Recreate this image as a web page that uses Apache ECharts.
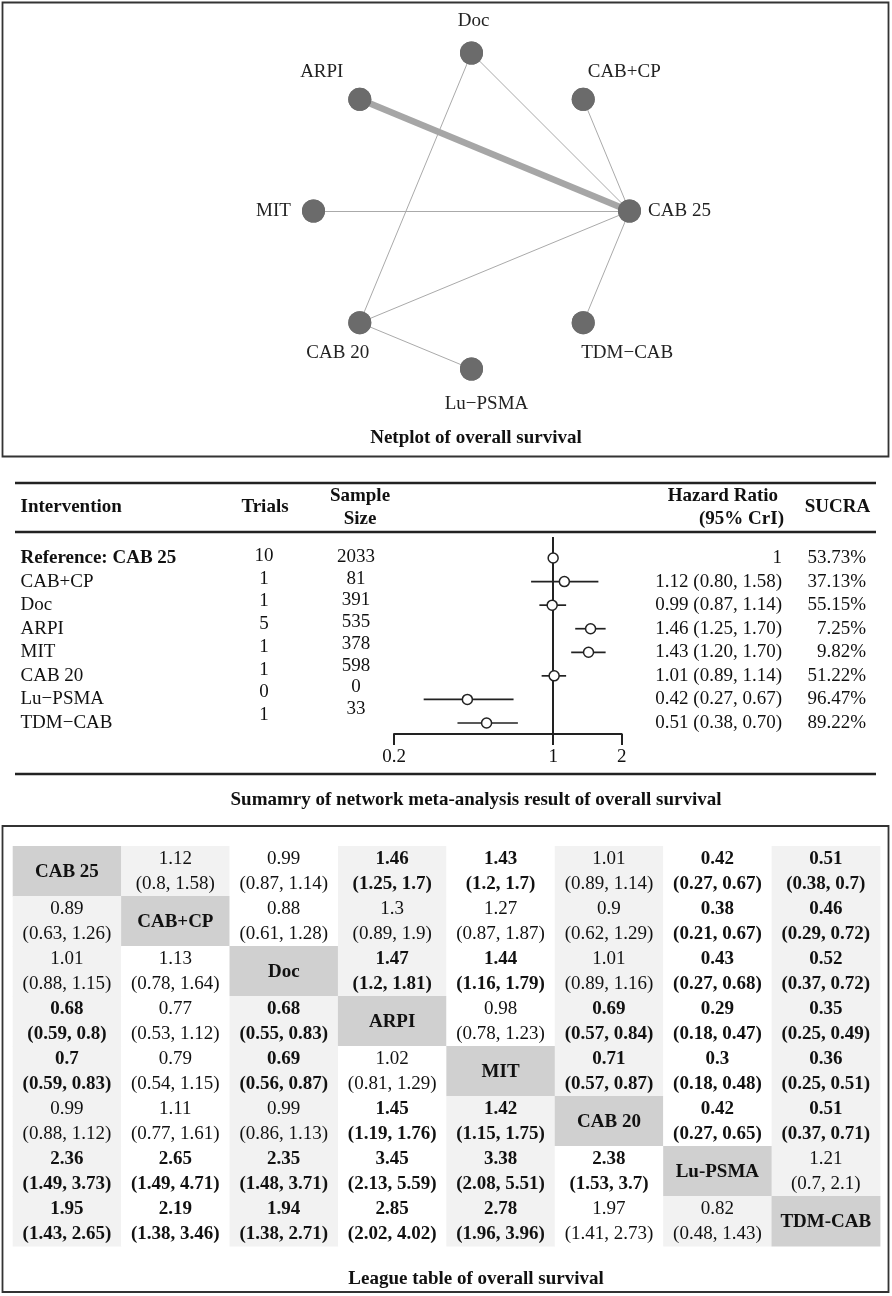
<!DOCTYPE html>
<html><head><meta charset="utf-8">
<script src="https://cdn.jsdelivr.net/npm/echarts@6/dist/echarts.min.js"></script>
<style>html,body{margin:0;padding:0;background:#fff}#c{width:892px;height:1296px}</style>
</head><body><div id="c"></div>
<script>
// ---------- Network plot data ----------
const netNodes = ['Doc', 'CAB+CP', 'CAB 25', 'TDM\u2212CAB', 'Lu\u2212PSMA', 'CAB 20', 'MIT', 'ARPI']; // clockwise from top
const netEdgeFrom = ['Doc', 'Doc', 'CAB+CP', 'ARPI', 'MIT', 'CAB 20', 'TDM\u2212CAB', 'CAB 20'];
const netEdgeTo = ['CAB 25', 'CAB 20', 'CAB 25', 'CAB 25', 'CAB 25', 'CAB 25', 'CAB 25', 'Lu\u2212PSMA'];
const netEdgeTrials = [1, 1, 1, 5, 1, 1, 1, 1];

// ---------- Summary table data ----------
const interventions = ['Reference: CAB 25', 'CAB+CP', 'Doc', 'ARPI', 'MIT', 'CAB 20', 'Lu\u2212PSMA', 'TDM\u2212CAB'];
const trials = [10, 1, 1, 5, 1, 1, 0, 1];
const sampleSize = [2033, 81, 391, 535, 378, 598, 0, 33];
const hr = [1, 1.12, 0.99, 1.46, 1.43, 1.01, 0.42, 0.51];
const hrLow = [null, 0.80, 0.87, 1.25, 1.20, 0.89, 0.27, 0.38];
const hrHigh = [null, 1.58, 1.14, 1.70, 1.70, 1.14, 0.67, 0.70];
const sucra = [53.73, 37.13, 55.15, 7.25, 9.82, 51.22, 96.47, 89.22];

// ---------- League table data ----------
const leagueNames = ['CAB 25', 'CAB+CP', 'Doc', 'ARPI', 'MIT', 'CAB 20', 'Lu-PSMA', 'TDM-CAB'];
const leagueHR = [
  [null, 1.12, 0.99, 1.46, 1.43, 1.01, 0.42, 0.51],
  [0.89, null, 0.88, 1.3, 1.27, 0.9, 0.38, 0.46],
  [1.01, 1.13, null, 1.47, 1.44, 1.01, 0.43, 0.52],
  [0.68, 0.77, 0.68, null, 0.98, 0.69, 0.29, 0.35],
  [0.7, 0.79, 0.69, 1.02, null, 0.71, 0.3, 0.36],
  [0.99, 1.11, 0.99, 1.45, 1.42, null, 0.42, 0.51],
  [2.36, 2.65, 2.35, 3.45, 3.38, 2.38, null, 1.21],
  [1.95, 2.19, 1.94, 2.85, 2.78, 1.97, 0.82, null]];
const leagueLow = [
  [null, 0.8, 0.87, 1.25, 1.2, 0.89, 0.27, 0.38],
  [0.63, null, 0.61, 0.89, 0.87, 0.62, 0.21, 0.29],
  [0.88, 0.78, null, 1.2, 1.16, 0.89, 0.27, 0.37],
  [0.59, 0.53, 0.55, null, 0.78, 0.57, 0.18, 0.25],
  [0.59, 0.54, 0.56, 0.81, null, 0.57, 0.18, 0.25],
  [0.88, 0.77, 0.86, 1.19, 1.15, null, 0.27, 0.37],
  [1.49, 1.49, 1.48, 2.13, 2.08, 1.53, null, 0.7],
  [1.43, 1.38, 1.38, 2.02, 1.96, 1.41, 0.48, null]];
const leagueHigh = [
  [null, 1.58, 1.14, 1.7, 1.7, 1.14, 0.67, 0.7],
  [1.26, null, 1.28, 1.9, 1.87, 1.29, 0.67, 0.72],
  [1.15, 1.64, null, 1.81, 1.79, 1.16, 0.68, 0.72],
  [0.8, 1.12, 0.83, null, 1.23, 0.84, 0.47, 0.49],
  [0.83, 1.15, 0.87, 1.29, null, 0.87, 0.48, 0.51],
  [1.12, 1.61, 1.13, 1.76, 1.75, null, 0.65, 0.71],
  [3.73, 4.71, 3.71, 5.59, 5.51, 3.7, null, 2.1],
  [2.65, 3.46, 2.71, 4.02, 3.96, 2.73, 1.43, null]];
const leagueBold = [
  [0, 0, 0, 1, 1, 0, 1, 1],
  [0, 0, 0, 0, 0, 0, 1, 1],
  [0, 0, 0, 1, 1, 0, 1, 1],
  [1, 0, 1, 0, 0, 1, 1, 1],
  [1, 0, 1, 0, 0, 1, 1, 1],
  [0, 0, 0, 1, 1, 0, 1, 1],
  [1, 1, 1, 1, 1, 1, 0, 0],
  [1, 1, 1, 1, 1, 0, 0, 0]];

// ---------- styles ----------
const FONT = '"Liberation Serif", "Times New Roman", serif';
const FS = 19;
const INK = '#111';
const NODE_COLOR = '#6b6b6b';
const netLabelOffset = {
  'Doc': [2, -32], 'CAB+CP': [41, -27], 'CAB 25': [50, 0], 'TDM\u2212CAB': [44, 30],
  'Lu\u2212PSMA': [15, 35], 'CAB 20': [-22, 30], 'MIT': [-40, 0], 'ARPI': [-38, -27]
};

const chart = echarts.init(document.getElementById('c'), null, {renderer: 'canvas', width: 892, height: 1296});

// text-column grids: [left, top, height]
const textGrids = {
  interv: [20.5, 558, 165],
  trials: [264, 556, 159],
  sample: [356, 557, 152],
  hrText: [782, 558, 165],
  sucra: [866, 558, 165]
};
const gridList = [
  {left: 394, width: 227.7, top: 537, height: 197, outerBoundsMode: 'none'} // forest
];
const colKeys = Object.keys(textGrids);
colKeys.forEach(k => {
  const g = textGrids[k];
  gridList.push({left: g[0], width: 1, top: g[1], height: g[2], outerBoundsMode: 'none'});
});
gridList.push({left: 12.7, width: 867.3, top: 846, height: 400, outerBoundsMode: 'none'}); // league
const LEAGUE_GRID = gridList.length - 1;

const xAxes = [{
  type: 'log', gridIndex: 0, min: 0.2, max: 2, logBase: 10,
  axisLine: {show: true, onZero: false, lineStyle: {color: '#222', width: 2}},
  axisTick: {show: true, length: 11, lineStyle: {color: '#222', width: 2}},
  axisLabel: {fontFamily: FONT, fontSize: FS, color: INK, margin: 14, showMinLabel: true, showMaxLabel: true},
  splitLine: {show: false}, minorTick: {show: false}
}];
const yAxes = [{
  type: 'value', gridIndex: 0, inverse: true, min: -0.891, max: 7.467, show: false
}];
colKeys.forEach((k, idx) => {
  xAxes.push({type: 'value', gridIndex: idx + 1, min: 0, max: 1, show: false});
  yAxes.push({type: 'category', gridIndex: idx + 1, data: interventions, inverse: true, boundaryGap: false, show: false});
});
xAxes.push({type: 'category', gridIndex: LEAGUE_GRID, data: leagueNames, show: false});
yAxes.push({type: 'category', gridIndex: LEAGUE_GRID, data: leagueNames, inverse: true, show: false});

function textColumn(gi, labels, align, boldRows) {
  return {
    type: 'custom', xAxisIndex: gi, yAxisIndex: gi, silent: true,
    data: labels.map((t, i) => [0, i]),
    renderItem: function (params, api) {
      const p = api.coord([0, api.value(1)]);
      const i = params.dataIndex;
      return {
        type: 'text', x: p[0], y: p[1],
        style: {
          text: labels[i], fontFamily: FONT, fontSize: FS,
          fontWeight: boldRows && boldRows.indexOf(i) >= 0 ? 'bold' : 'normal',
          fill: INK, align: align, verticalAlign: 'middle'
        }
      };
    }
  };
}

const hrLabels = hr.map((v, i) => hrLow[i] == null ? String(v) :
  v.toFixed(2) + ' (' + hrLow[i].toFixed(2) + ', ' + hrHigh[i].toFixed(2) + ')');
const sucraLabels = sucra.map(v => v.toFixed(2) + '%');

const leagueCells = [];
for (let i = 0; i < leagueNames.length; i++) for (let j = 0; j < leagueNames.length; j++) leagueCells.push([j, i]);

const series = [
  {
    // edges (and node labels) of the network
    type: 'graph', coordinateSystem: 'polar', polarIndex: 0, roam: false, silent: true,
    symbol: 'circle', symbolSize: 23,
    itemStyle: {color: NODE_COLOR},
    label: {show: true, position: 'inside', fontFamily: FONT, fontSize: FS, color: '#222'},
    lineStyle: {color: '#aaaaaa', opacity: 1, curveness: 0},
    data: netNodes.map((n, i) => ({name: n, value: [1, i], label: {offset: netLabelOffset[n]}})),
    links: netEdgeFrom.map((s, k) => ({
      source: s, target: netEdgeTo[k],
      lineStyle: {width: 1 + (netEdgeTrials[k] - 1) * 1.4, color: netEdgeTrials[k] > 1 ? '#a6a6a6' : '#aaaaaa'}
    })),
    z: 2
  },
  {
    // node discs drawn above the edges
    type: 'scatter', coordinateSystem: 'polar', polarIndex: 0, silent: true,
    symbol: 'circle', symbolSize: 23,
    itemStyle: {color: NODE_COLOR, opacity: 1},
    data: netNodes.map((n, i) => [1, i]),
    z: 4
  },
  {
    type: 'custom', xAxisIndex: 0, yAxisIndex: 0, silent: true,
    data: hr.map((v, i) => [hrLow[i], hrHigh[i], i]).filter(d => d[0] != null),
    encode: {x: [0, 1], y: 2},
    renderItem: function (params, api) {
      const a = api.coord([api.value(0), api.value(2)]);
      const b = api.coord([api.value(1), api.value(2)]);
      return {type: 'line', shape: {x1: a[0], y1: a[1], x2: b[0], y2: a[1]}, style: {stroke: '#222', lineWidth: 1.7}};
    },
    markLine: {
      silent: true, symbol: 'none', label: {show: false},
      lineStyle: {color: '#222', width: 2, type: 'solid'},
      data: [{xAxis: 1}]
    },
    z: 2
  },
  {
    type: 'scatter', xAxisIndex: 0, yAxisIndex: 0, silent: true,
    data: hr.map((v, i) => [v, i]),
    symbol: 'circle', symbolSize: 10,
    itemStyle: {color: '#fff', borderColor: '#222', borderWidth: 1.5, opacity: 1},
    z: 5
  },
  textColumn(1, interventions, 'left', [0]),
  textColumn(2, trials.map(String), 'center'),
  textColumn(3, sampleSize.map(String), 'center'),
  textColumn(4, hrLabels, 'right'),
  textColumn(5, sucraLabels, 'right'),
  {
    type: 'custom', xAxisIndex: LEAGUE_GRID, yAxisIndex: LEAGUE_GRID, silent: true,
    data: leagueCells,
    renderItem: function (params, api) {
      const j = api.value(0), i = api.value(1);
      const c = api.coord([j, i]);
      const s = api.size([1, 1]);
      let fill, text, bold;
      if (i === j) {
        fill = '#d0d0d0'; text = leagueNames[i]; bold = true;
      } else {
        const light = j > i ? (j % 2 === 1) : (j % 2 === 0);
        fill = light ? '#f2f2f2' : '#ffffff';
        text = leagueHR[i][j] + '\n(' + leagueLow[i][j] + ', ' + leagueHigh[i][j] + ')';
        bold = leagueBold[i][j] === 1;
      }
      return {
        type: 'group', children: [
          {type: 'rect', shape: {x: c[0] - s[0] / 2, y: c[1] - s[1] / 2, width: s[0] + 0.4, height: s[1] + 0.4}, style: {fill: fill}},
          {type: 'text', x: c[0], y: c[1] + 1, style: {
            text: text, fontFamily: FONT, fontSize: FS, fontWeight: bold ? 'bold' : 'normal',
            lineHeight: 25, fill: INK, align: 'center', verticalAlign: 'middle'}}
        ]
      };
    }
  }
];

function gText(x, y, text, align, bold) {
  return {type: 'text', x: x, y: y, silent: true, z: 10,
    style: {text: text, fontFamily: FONT, fontSize: FS, fontWeight: bold ? 'bold' : 'normal',
      fill: INK, align: align, verticalAlign: 'middle'}};
}
function gLine(x1, y1, x2, y2, w) {
  return {type: 'line', silent: true, z: 10, shape: {x1: x1, y1: y1, x2: x2, y2: y2}, style: {stroke: '#222', lineWidth: w}};
}

const graphic = [
  {type: 'rect', silent: true, z: 10, shape: {x: 2.5, y: 2.5, width: 886, height: 454}, style: {fill: null, stroke: '#333', lineWidth: 1.8}},
  {type: 'rect', silent: true, z: 10, shape: {x: 2.5, y: 826, width: 886, height: 466}, style: {fill: null, stroke: '#333', lineWidth: 1.8}},
  gText(476, 438, 'Netplot of overall survival', 'center', true),
  gLine(15, 483, 876, 483, 2.5),
  gLine(15, 532, 876, 532, 2.5),
  gLine(15, 774, 876, 774, 2.5),
  gText(20.5, 507, 'Intervention', 'left', true),
  gText(265, 507, 'Trials', 'center', true),
  gText(360, 496, 'Sample', 'center', true),
  gText(360, 519, 'Size', 'center', true),
  gText(778, 496, 'Hazard Ratio', 'right', true),
  gText(784, 519, '(95% CrI)', 'right', true),
  gText(837.5, 507, 'SUCRA', 'center', true),
  gText(476, 800, 'Sumamry of network meta-analysis result of overall survival', 'center', true),
  gText(476, 1279, 'League table of overall survival', 'center', true)
];

chart.setOption({
  backgroundColor: '#ffffff',
  animation: false,
  textStyle: {fontFamily: FONT},
  polar: {center: [471.5, 211], radius: 158},
  angleAxis: {
    type: 'category', data: netNodes, startAngle: 90, clockwise: true, boundaryGap: false,
    axisLine: {show: false}, axisTick: {show: false}, axisLabel: {show: false}, splitLine: {show: false}, splitArea: {show: false}
  },
  radiusAxis: {
    type: 'value', min: 0, max: 1,
    axisLine: {show: false}, axisTick: {show: false}, axisLabel: {show: false}, splitLine: {show: false}, splitArea: {show: false}
  },
  grid: gridList,
  xAxis: xAxes,
  yAxis: yAxes,
  series: series,
  graphic: graphic
});
</script>
</body></html>
